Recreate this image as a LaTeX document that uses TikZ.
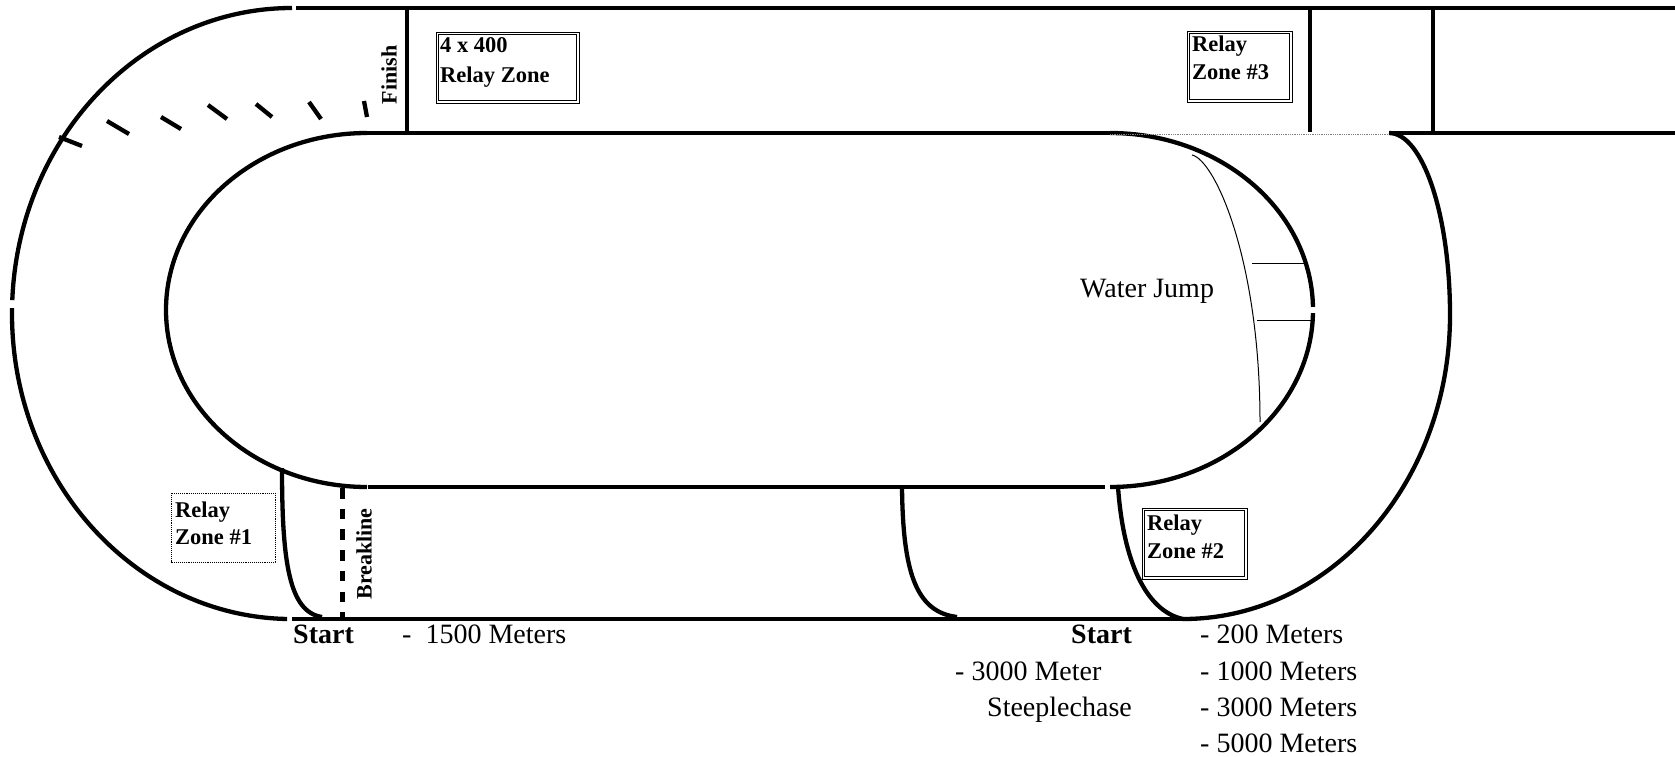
\documentclass[tikz,border=0pt]{standalone}
\usepackage{fontspec}
\setmainfont{Liberation Serif}
\begin{document}
\begin{tikzpicture}[x=1pt,y=-1pt,
  track/.style={line width=4.3pt},
  fine/.style={line width=1pt},
  lbl/.style={inner sep=0pt, anchor=base west, font=\fontsize{28}{36}\selectfont},
  boldlbl/.style={inner sep=0pt, anchor=base west, font=\fontsize{28}{36}\selectfont\bfseries},
  zonetxt/.style={inner sep=0pt, anchor=base west, font=\fontsize{22.5}{28}\selectfont\bfseries},
  sidelbl/.style={inner sep=0pt, rotate=90, font=\fontsize{22}{26}\selectfont\bfseries},
  zonebox/.style={line width=0.9pt},
  breakstyle/.style={line width=5pt, dash pattern=on 10.5pt off 10.2pt}
]
\useasboundingbox (0,0) rectangle (1675,757);

% outer left bend (two arcs with a small gap)
\draw[track] (292,8) arc[start angle=270, end angle=182.5, x radius=280, y radius=305.5];
\draw[track] (12.04,308.2) arc[start angle=181, end angle=91, x radius=280, y radius=305.5];
% outer straights
\draw[track] (296,8) -- (1675,8);
\draw[track] (292,619) -- (1183,619);
% inner left bend
\draw[track] (367,133) arc[start angle=270, end angle=90, x radius=201, y radius=177];
% inner straights
\draw[track] (367,133) -- (1110,133);
\draw[track] (368,487) -- (1105,487);
% inner right bend
\draw[track] (1110,133) arc[start angle=-90, end angle=-1, x radius=203, y radius=177];
\draw[track] (1312.97,313.1) arc[start angle=1, end angle=90, x radius=203, y radius=177];
% thin dotted continuation
\draw[gray, line width=0.8pt, densely dotted] (1110,134) -- (1389,134);
% right lane inner line
\draw[track] (1389,133) -- (1675,133);
% outer right bend
\draw[track] (1389,133) arc[start angle=-90, end angle=0, x radius=61, y radius=182]
                        arc[start angle=0, end angle=90, x radius=267, y radius=304];
% vertical lines in the top straight
\draw[track] (407,8) -- (407,133);
\draw[track] (1310,8) -- (1310,132);
\draw[track] (1433,8) -- (1433,133);

% staggered start dashes
\draw[track] (59,137) -- (82,146);
\draw[track] (107,121) -- (129,134);
\draw[track] (161,117) -- (181,129);
\draw[track] (208,105) -- (227,119);
\draw[track] (256,104) -- (272,117);
\draw[track] (309,102) -- (321,119);
\draw[track] (364,101) -- (367,117);

% lane curves on the bottom straight
\draw[track] (282,468) .. controls (282,562) and (289,612) .. (322,617);
\draw[track] (902,488) .. controls (903,570) and (915,612) .. (957,617);
\draw[track] (1118,487) .. controls (1124,570) and (1150,612) .. (1183,619);
% breakline
\draw[breakstyle] (342,488) -- (342,619);

% water jump
\draw[fine] (1192,155) .. controls (1215,160) and (1260,260) .. (1260,422);
\draw[fine] (1252,263) -- (1305,263);
\draw[fine] (1257,320) -- (1315,320);

% boxes
\draw[zonebox] (436,32) rectangle (579,103);
\draw[zonebox] (438,34) rectangle (576,100);
\draw[zonebox] (1187,31) rectangle (1292,102);
\draw[zonebox] (1189,33) rectangle (1289,99);
\draw[zonebox] (1142,508) rectangle (1247,579);
\draw[zonebox] (1144,510) rectangle (1244,576);
\draw[line width=0.9pt, densely dotted] (171,493) rectangle (275,562);

% texts
\node[zonetxt] (r4a) at (440,53) {4 x 400};
\node[zonetxt] (r4b) at (440,83) {Relay Zone};
\node[zonetxt] (r3a) at (1192,52) {Relay};
\node[zonetxt] (r3b) at (1192,80) {Zone \#3};
\node[zonetxt] (r2a) at (1147,530) {Relay};
\node[zonetxt] (r2b) at (1147,558) {Zone \#2};
\node[zonetxt] (r1a) at (175,517) {Relay};
\node[zonetxt] (r1b) at (175,544) {Zone \#1};
\node[sidelbl] (fin) at (389,75) {Finish};
\node[sidelbl] (brk) at (364,554) {Breakline};
\node[lbl] (wj) at (1080,297) {Water Jump};
\node[boldlbl] (st1) at (293,643) {Start};
\node[lbl] (m1500) at (402,643) {-~~1500 Meters};
\node[boldlbl] (st2) at (1071,643) {Start};
\node[lbl] (m200) at (1200,643) {- 200 Meters};
\node[lbl] (m1000) at (1200,680) {- 1000 Meters};
\node[lbl] (m3000) at (1200,716) {- 3000 Meters};
\node[lbl] (m5000) at (1200,752) {- 5000 Meters};
\node[lbl] (sc1) at (955,680) {- 3000 Meter};
\node[lbl] (sc2) at (987,716) {Steeplechase};
\end{tikzpicture}
\end{document}
